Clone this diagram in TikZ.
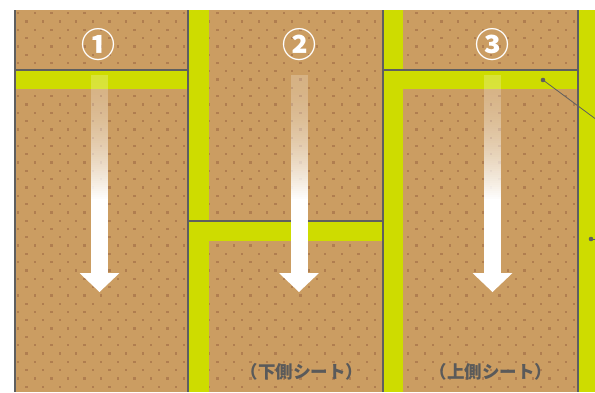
\documentclass[tikz,border=0pt]{standalone}
\usepackage{fontspec}
\newfontfamily\jp{Noto Sans CJK JP}
\definecolor{tanc}{RGB}{203,157,98}
\definecolor{dotc}{RGB}{176,126,80}
\definecolor{yel}{RGB}{206,220,0}
\definecolor{linec}{RGB}{95,95,95}
\definecolor{labc}{RGB}{90,90,90}
\tikzset{
  sep/.style={draw=linec, line width=2pt},
  band/.style={fill=yel},
  numlbl/.style={text=white, font=\jp\bfseries\fontsize{34}{34}\selectfont, inner sep=0pt},
  sheetlbl/.style={text=labc, font=\jp\bfseries\fontsize{17.5}{17.5}\selectfont, inner sep=0pt},
  leader/.style={draw=linec, line width=0.8pt},
}
\newcommand\fadearrow[1]{%
  \foreach \i in {0,...,62}{%
    \pgfmathsetmacro\op{0.22+0.78*(\i/62)^1.8}%
    \fill[white, fill opacity=\op] ({#1-8.5},{75+2*\i}) rectangle ({#1+8.5},{77+2*\i});
  }%
  \fill[white] ({#1-8.5},201) rectangle ({#1+8.5},274);
  \fill[white] ({#1-20},273) -- ({#1+20},273) -- (#1,292) -- cycle;
}
\begin{document}
\begin{tikzpicture}[x=1pt,y=-1pt]
\useasboundingbox (0,0) rectangle (595,392);
\fill[white] (0,0) rectangle (595,392);
\fill[tanc] (15,10) rectangle (595,392);
\begin{scope}
\clip (15,10) rectangle (595,392);
\foreach \r in {0,...,46}{
  \pgfmathsetmacro\yy{12+\r*8.3}
  \pgfmathsetmacro\off{mod(\r,2)*8.3}
  \foreach \c in {0,...,35}{
    \fill[dotc] ({17+\off+\c*16.6},\yy) rectangle ++(2.3,2.3);
  }
}
\end{scope}
% yellow bands
\fill[band] (15,71) rectangle (188,89);
\fill[band] (189,10) rectangle (209,220);
\fill[band] (189,222) rectangle (209,392);
\fill[band] (209,222) rectangle (383,241);
\fill[band] (384,10) rectangle (403,70);
\fill[band] (384,71) rectangle (403,392);
\fill[band] (403,71) rectangle (577,89);
\fill[band] (579,10) rectangle (595,392);
% separators
\draw[sep] (15,10) -- (15,392);
\draw[sep] (188,10) -- (188,392);
\draw[sep] (383,10) -- (383,392);
\draw[sep] (578,10) -- (578,392);
\draw[sep] (15,70) -- (188,70);
\draw[sep] (188,221) -- (383,221);
\draw[sep] (383,70) -- (578,70);
% arrows
\fadearrow{99.5}
\fadearrow{299}
\fadearrow{492.5}
% numbers
\node[numlbl] (n1) at (98,45) {①};
\node[numlbl] (n2) at (299,45) {②};
\node[numlbl] (n3) at (492,45) {③};
% labels
\node[sheetlbl] (l2) at (302,372) {（下側シート）};
\node[sheetlbl] (l3) at (491,372) {（上側シート）};
% leaders
\coordinate (d1) at (543,80);
\coordinate (e1) at (597,120);
\coordinate (d2) at (591,239);
\coordinate (e2) at (597,239);
\draw[leader] (d1) -- (e1);
\draw[leader] (d2) -- (e2);
\fill[linec] (d1) circle (2.3);
\fill[linec] (d2) circle (2.3);
\end{tikzpicture}
\end{document}
